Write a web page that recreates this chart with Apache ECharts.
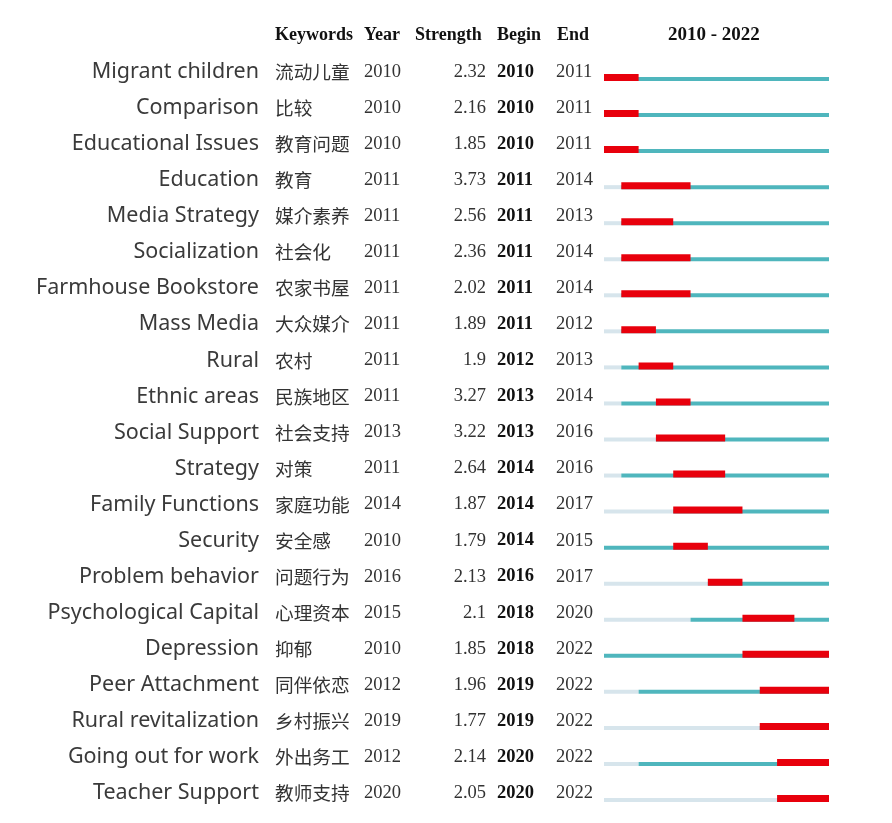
<!DOCTYPE html>
<html>
<head>
<meta charset="utf-8">
<title>Keyword bursts 2010 - 2022</title>
<script src="https://cdn.jsdelivr.net/npm/echarts@6/dist/echarts.min.js"></script>
<style>
  html, body { margin: 0; padding: 0; background: #fff; }
  #main { width: 892px; height: 823px; }
</style>
</head>
<body>
<div id="main"></div>
<script>
// 关键词（英文 / 中文）
const keywordsEn = ['Migrant children', 'Comparison', 'Educational Issues', 'Education', 'Media Strategy',
  'Socialization', 'Farmhouse Bookstore', 'Mass Media', 'Rural', 'Ethnic areas', 'Social Support',
  'Strategy', 'Family Functions', 'Security', 'Problem behavior', 'Psychological Capital', 'Depression',
  'Peer Attachment', 'Rural revitalization', 'Going out for work', 'Teacher Support'];
const keywordsZh = ['流动儿童', '比较', '教育问题', '教育', '媒介素养', '社会化', '农家书屋', '大众媒介', '农村',
  '民族地区', '社会支持', '对策', '家庭功能', '安全感', '问题行为', '心理资本', '抑郁', '同伴依恋', '乡村振兴',
  '外出务工', '教师支持'];
// 出现年份 / 突现强度 / 开始 / 结束
const years = [2010, 2010, 2010, 2011, 2011, 2011, 2011, 2011, 2011, 2011, 2013, 2011, 2014, 2010, 2016,
  2015, 2010, 2012, 2019, 2012, 2020];
const strengths = [2.32, 2.16, 1.85, 3.73, 2.56, 2.36, 2.02, 1.89, 1.9, 3.27, 3.22, 2.64, 1.87, 1.79, 2.13,
  2.1, 1.85, 1.96, 1.77, 2.14, 2.05];
const begins = [2010, 2010, 2010, 2011, 2011, 2011, 2011, 2011, 2012, 2013, 2013, 2014, 2014, 2014, 2016,
  2018, 2018, 2019, 2019, 2020, 2020];
const ends = [2011, 2011, 2011, 2014, 2013, 2014, 2014, 2012, 2013, 2014, 2016, 2016, 2017, 2015, 2017,
  2020, 2022, 2022, 2022, 2022, 2022];
const headers = ['Keywords', 'Year', 'Strength', 'Begin', 'End'];
const rangeStart = 2010;
const rangeEnd = 2022;

const serif = '"Liberation Serif", "Times New Roman", serif';
const textColor = '#333';

const rows = keywordsEn.map((k, i) => [i, years[i], begins[i], ends[i]]);

const chart = echarts.init(document.getElementById('main'));

function renderBars(params, api) {
  const i = api.value(0);
  const year = api.value(1);
  const b = api.value(2);
  const e = api.value(3);
  const p0 = api.coord([rangeStart, i]);
  const pY = api.coord([year, i]);
  const pEnd = api.coord([rangeEnd + 1, i]);
  const pB = api.coord([b, i]);
  const pE = api.coord([e + 1, i]);
  const y = p0[1];
  const children = [];
  if (pY[0] > p0[0]) {
    children.push({ type: 'rect', shape: { x: p0[0], y: y - 2, width: pY[0] - p0[0], height: 4 },
      style: { fill: '#d7e5ec' } });
  }
  children.push({ type: 'rect', shape: { x: pY[0], y: y - 2, width: pEnd[0] - pY[0], height: 4 },
    style: { fill: '#4fb6bd' } });
  children.push({ type: 'rect', shape: { x: pB[0], y: y - 5, width: pE[0] - pB[0], height: 7 },
    style: { fill: '#e8000c' } });
  return { type: 'group', children: children };
}

function renderTable(params, api) {
  const i = api.value(0);
  const y = api.coord([rangeStart, i])[1] - 7;
  const t = (text, x, align, font, fill) => ({
    type: 'text',
    style: { text: text, x: x, y: y, align: align, verticalAlign: 'middle', font: font, fill: fill || textColor }
  });
  return {
    type: 'group',
    children: [
      t(keywordsEn[i], 259, 'right', '21.5px "Noto Sans", "Open Sans", sans-serif', '#3a3a3a'),
      t(keywordsZh[i], 275, 'left', '18.7px "Noto Sans CJK SC", sans-serif', '#333'),
      t(String(years[i]), 364, 'left', '18.5px ' + serif),
      t(String(strengths[i]), 486, 'right', '18.5px ' + serif),
      t(String(begins[i]), 497, 'left', 'bold 18.5px ' + serif, '#111'),
      t(String(ends[i]), 556, 'left', '18.5px ' + serif)
    ]
  };
}

const headerX = [275, 364, 415, 497, 557];

const option = {
  animation: false,
  backgroundColor: '#fff',
  grid: { left: 604, right: 63, top: 61, bottom: 5 },
  xAxis: { type: 'value', min: rangeStart, max: rangeEnd + 1, show: false },
  yAxis: { type: 'category', data: keywordsEn, inverse: true, show: false },
  graphic: headers.map((h, k) => ({
    type: 'text', left: headerX[k], top: 26,
    style: { text: h, font: 'bold 18px ' + serif, fill: '#111' }
  })).concat([{
    type: 'text', left: 668, top: 26,
    style: { text: rangeStart + ' - ' + rangeEnd, font: 'bold 19px ' + serif, fill: '#111' }
  }]),
  series: [
    { type: 'custom', name: 'bursts', data: rows, encode: { x: [1, 2, 3], y: 0 }, renderItem: renderBars },
    { type: 'custom', name: 'table', data: rows, encode: { y: 0 }, clip: false, renderItem: renderTable }
  ]
};

chart.setOption(option);
</script>
</body>
</html>
